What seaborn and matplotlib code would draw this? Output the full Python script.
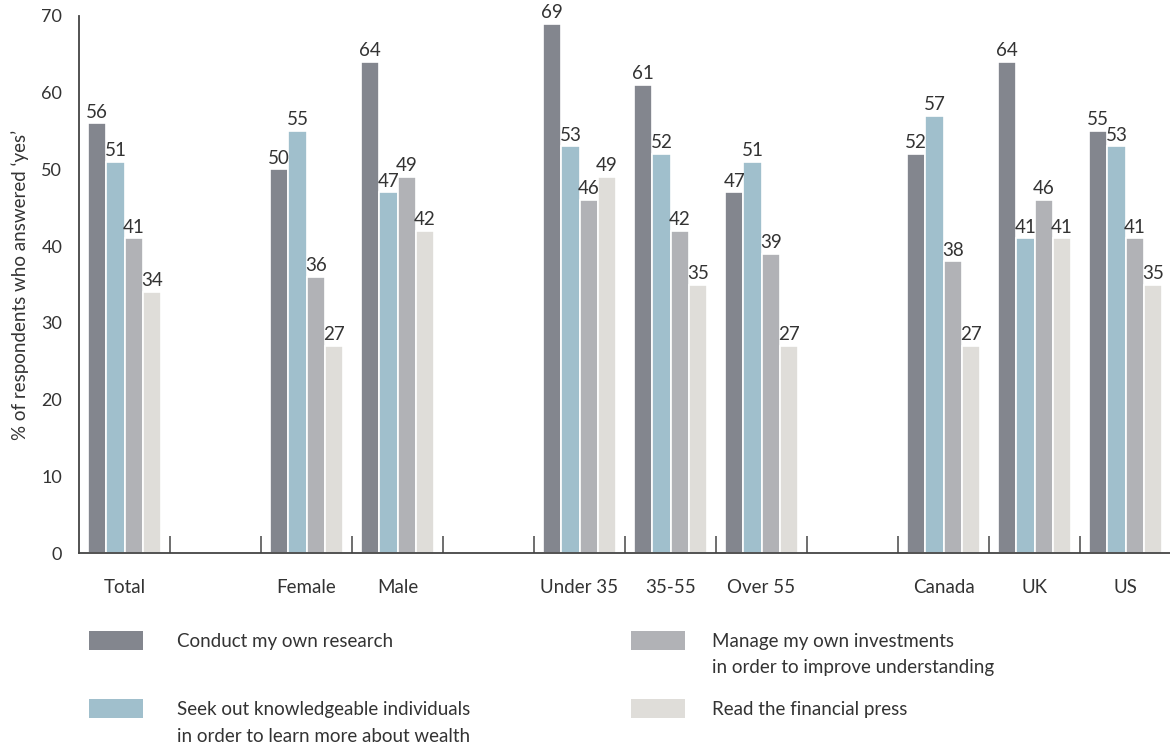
import matplotlib
matplotlib.use("Agg")
import matplotlib.pyplot as plt
import seaborn as sns
import pandas as pd
from matplotlib.patches import Rectangle

groups = ["Total", "Female", "Male", "Under 35", "35-55", "Over 55", "Canada", "UK", "US"]
slot_order = ["Total", " ", "Female", "Male", "  ", "Under 35", "35-55", "Over 55", "   ", "Canada", "UK", "US"]
series = ["Conduct my own research",
          "Seek out knowledgeable individuals\nin order to learn more about wealth",
          "Manage my own investments\nin order to improve understanding",
          "Read the financial press"]
research = [56, 50, 64, 69, 61, 47, 52, 64, 55]
seek = [51, 55, 47, 53, 52, 51, 57, 41, 53]
manage = [41, 36, 49, 46, 42, 39, 38, 46, 41]
press = [34, 27, 42, 49, 35, 27, 27, 41, 35]
colors = ["#83868e", "#a0bfcc", "#b1b2b6", "#dfddd9"]
yticks = [0, 10, 20, 30, 40, 50, 60, 70]

rows = []
for s, vals in zip(series, [research, seek, manage, press]):
    for g, v in zip(groups, vals):
        rows.append({"group": g, "series": s, "value": v})
df = pd.DataFrame(rows)

sns.set_style("white")
plt.rcParams["font.family"] = ["Lato", "DejaVu Sans"]
txt = "#333333"
fs = 13.5

fig = plt.figure(figsize=(11.7, 7.46), dpi=100)
ax = fig.add_axes([79/1170, 193/746, 1092/1170, 537/746])

sns.barplot(data=df, x="group", y="value", hue="series", order=slot_order,
            hue_order=series, palette=colors, width=0.8, edgecolor="white",
            linewidth=1.2, saturation=1, legend=False, ax=ax)

for cont in ax.containers:
    ax.bar_label(cont, padding=2, fontsize=fs, color=txt)

ax.set_xlim(-0.5, len(slot_order) - 0.5)
ax.set_ylim(0, 70)
ax.set_yticks(yticks)
ax.set_yticklabels([str(t) for t in yticks], fontsize=13, color=txt)
ax.set_xticks(range(len(slot_order)))
ax.set_xticklabels([s.strip() for s in slot_order], fontsize=fs, color=txt)
ax.tick_params(axis="x", which="major", length=0, pad=19)
ax.tick_params(axis="y", length=0, pad=12)
ax.set_xticks([i + 0.5 for i in range(len(slot_order) - 1)], minor=True)
ax.tick_params(axis="x", which="minor", bottom=True, direction="in", length=12,
               width=1.2, color="#555555")
ax.set_xlabel("")
ax.set_ylabel("% of respondents who answered \u2018yes\u2019", fontsize=fs, color=txt, labelpad=9)
for side in ["top", "right"]:
    ax.spines[side].set_visible(False)
for side in ["left", "bottom"]:
    ax.spines[side].set_color("#444444")
    ax.spines[side].set_linewidth(1.3)

# legend
leg_items = [(series[0], colors[0], 89, 631), (series[1], colors[1], 89, 699),
             (series[2], colors[2], 631, 631), (series[3], colors[3], 631, 699)]
for label, c, x, y in leg_items:
    fig.add_artist(Rectangle((x/1170, 1 - (y + 19)/746), 54/1170, 19/746,
                             transform=fig.transFigure, facecolor=c, edgecolor="none"))
    for k, line in enumerate(label.split("\n")):
        fig.text((x + 88 if x < 600 else x + 81)/1170, 1 - (y + 11 + 26*k)/746, line,
                 fontsize=fs, color=txt, va="center", ha="left")

fig.savefig("out.png", dpi=100)
